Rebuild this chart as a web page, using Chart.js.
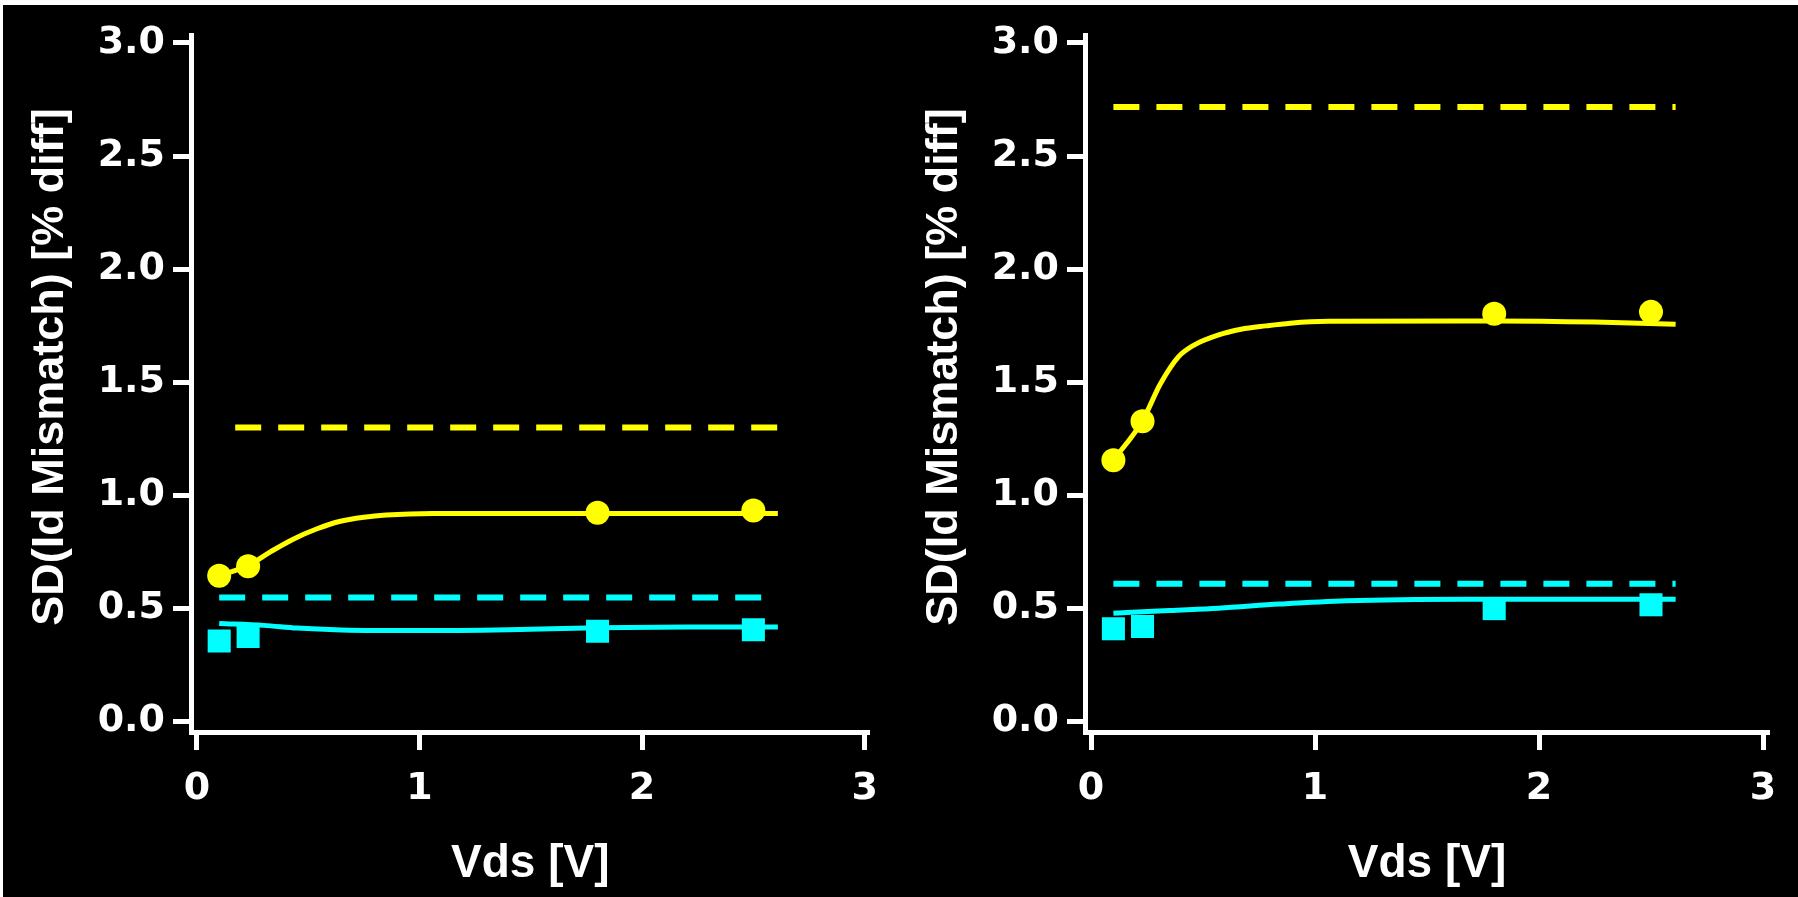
<!DOCTYPE html>
<html>
<head>
<meta charset="utf-8">
<script src="https://cdn.jsdelivr.net/npm/chart.js@4"></script>
<style>
html,body{margin:0;padding:0;background:#000;width:1798px;height:897px;overflow:hidden;}
#wrap{position:absolute;left:0;top:0;width:1798px;height:897px;background:#000;}
.panel{position:absolute;top:0;height:897px;}
#topbar{position:absolute;left:0;top:0;width:1798px;height:5px;background:#fff;}
#leftbar{position:absolute;left:0;top:0;width:3px;height:897px;background:#fff;}
</style>
</head>
<body>
<div id="wrap">
  <div class="panel" style="left:0;width:894px"><canvas id="c1" width="894" height="897" style="width:894px;height:897px"></canvas></div>
  <div class="panel" style="left:894px;width:904px"><canvas id="c2" width="904" height="897" style="width:904px;height:897px"></canvas></div>
  <div id="topbar"></div><div id="leftbar"></div>
</div>
<script>
// ---- data ----
const vds = [0.1, 0.23, 1.8, 2.5];
const xTicks = [0, 1, 2, 3];
const yTicks = [0, 0.5, 1.0, 1.5, 2.0, 2.5, 3.0];
const xTitle = 'Vds [V]';
const yTitle = 'SD(Id Mismatch) [% diff]';

// left panel
const leftCircles = [0.644, 0.686, 0.923, 0.933];
const leftSquares = [0.356, 0.376, 0.399, 0.406];
const leftYellowFitX = [0.1, 0.23, 0.33, 0.43, 0.54, 0.64, 0.75, 0.85, 1.06, 1.8, 2.61];
const leftYellowFitY = [0.644, 0.69, 0.75, 0.805, 0.852, 0.884, 0.903, 0.913, 0.92, 0.92, 0.92];
const leftCyanFitX = [0.1, 0.3, 0.45, 0.65, 1.0, 1.4, 1.8, 2.2, 2.61];
const leftCyanFitY = [0.433, 0.425, 0.413, 0.405, 0.402, 0.406, 0.415, 0.418, 0.418];
const leftYellowLimit = 1.30;
const leftCyanLimit = 0.548;

// right panel
const rightCircles = [1.155, 1.327, 1.803, 1.811];
const rightSquares = [0.41, 0.42, 0.499, 0.516];
const rightYellowFitX = [0.1, 0.23, 0.31, 0.39, 0.46, 0.57, 0.67, 0.78, 0.89, 1.06, 1.8, 2.25, 2.61];
const rightYellowFitY = [1.155, 1.33, 1.493, 1.612, 1.664, 1.709, 1.734, 1.749, 1.761, 1.769, 1.771, 1.766, 1.756];
const rightCyanFitX = [0.1, 0.35, 0.57, 0.84, 1.14, 1.66, 2.61];
const rightCyanFitY = [0.479, 0.491, 0.501, 0.519, 0.534, 0.541, 0.541];
const rightYellowLimit = 2.717;
const rightCyanLimit = 0.609;

const limitX = [0.1, 2.61];

// ---- styling ----
const YEL = '#ffff00';
const CYA = '#00ffff';
const WHITE = '#ffffff';

function pts(xs, ys) { return xs.map((x, i) => ({x: x, y: ys[i]})); }
function flat(xs, v) { return xs.map(x => ({x: x, y: v})); }

// y-axis title drawn as text, centred where the reference places it
const yTitlePlugin = {
  id: 'yTitleText',
  afterDraw(chart) {
    const ctx = chart.ctx;
    ctx.save();
    ctx.translate(51, 367);
    ctx.rotate(-Math.PI / 2);
    ctx.font = 'bold 45px "Liberation Sans", Arial, sans-serif';
    ctx.fillStyle = WHITE;
    ctx.textAlign = 'center';
    ctx.textBaseline = 'middle';
    ctx.fillText(yTitle, 0, 0);
    ctx.restore();
  }
};

function makeChart(id, d, g) {
  return new Chart(document.getElementById(id), {
    type: 'scatter',
    data: {
      datasets: [
        {data: pts(vds, d.circ), pointStyle: 'circle', pointRadius: 12, backgroundColor: YEL, borderWidth: 0, showLine: false},
        {data: pts(vds, d.sq), pointStyle: 'rect', pointRadius: 16.3, backgroundColor: CYA, borderWidth: 0, showLine: false},
        {data: pts(d.yfx, d.yfy), showLine: true, borderColor: YEL, borderWidth: 5, pointRadius: 0, cubicInterpolationMode: 'monotone', fill: false},
        {data: pts(d.cfx, d.cfy), showLine: true, borderColor: CYA, borderWidth: 5, pointRadius: 0, cubicInterpolationMode: 'monotone', fill: false},
        {data: flat(limitX, d.ylim), showLine: true, borderColor: YEL, borderWidth: 6, borderDash: [26, 17], borderDashOffset: d.yOff, pointRadius: 0, fill: false},
        {data: flat(limitX, d.clim), showLine: true, borderColor: CYA, borderWidth: 6, borderDash: [26, 17], pointRadius: 0, fill: false}
      ]
    },
    options: {
      responsive: false,
      animation: false,
      events: [],
      layout: {padding: {left: 0, top: 35, right: g.padR, bottom: 0}},
      plugins: {legend: {display: false}, tooltip: {enabled: false}},
      scales: {
        x: {
          type: 'linear', min: g.xmin, max: g.xmax,
          afterBuildTicks: s => { s.ticks = xTicks.map(v => ({value: v})); },
          afterFit: s => { s.height = 897 - 732; },
          border: {display: true, color: WHITE, width: 5},
          grid: {display: true, drawOnChartArea: false, drawTicks: true, tickLength: 18, tickWidth: 5, tickColor: WHITE, color: WHITE},
          ticks: {color: WHITE, font: {family: 'DejaVu Sans', weight: 'bold', size: 38}, padding: 16, maxRotation: 0, autoSkip: false,
                  callback: v => String(v)},
          title: {display: true, text: xTitle, color: WHITE, font: {family: 'Liberation Sans', weight: 'bold', size: 46}, padding: {top: 0, bottom: 5}}
        },
        y: {
          type: 'linear', min: -0.0464, max: 3.035,
          afterBuildTicks: s => { s.ticks = yTicks.map(v => ({value: v})); },
          afterFit: s => { s.width = 191; },
          border: {display: true, color: WHITE, width: 5},
          grid: {display: true, drawOnChartArea: false, drawTicks: true, tickLength: 18, tickWidth: 5, tickColor: WHITE, color: WHITE},
          ticks: {color: WHITE, font: {family: 'DejaVu Sans', weight: 'bold', size: 38}, padding: 8, autoSkip: false,
                  callback: v => Number(v).toFixed(1)},
          title: {display: false, text: yTitle}
        }
      }
    },
    plugins: [yTitlePlugin]
  });
}

makeChart('c1', {
  circ: leftCircles, sq: leftSquares,
  yfx: leftYellowFitX, yfy: leftYellowFitY, cfx: leftCyanFitX, cfy: leftCyanFitY,
  ylim: leftYellowLimit, clim: leftCyanLimit, yOff: 27
}, {xmin: -6 / 225.3, xmax: 3 + 5 / 225.3, padR: 16});

makeChart('c2', {
  circ: rightCircles, sq: rightSquares,
  yfx: rightYellowFitX, yfy: rightYellowFitY, cfx: rightCyanFitX, cfy: rightCyanFitY,
  ylim: rightYellowLimit, clim: rightCyanLimit, yOff: 0
}, {xmin: -6 / 224, xmax: 3 + 6 / 224, padR: 29});
</script>
</body>
</html>
